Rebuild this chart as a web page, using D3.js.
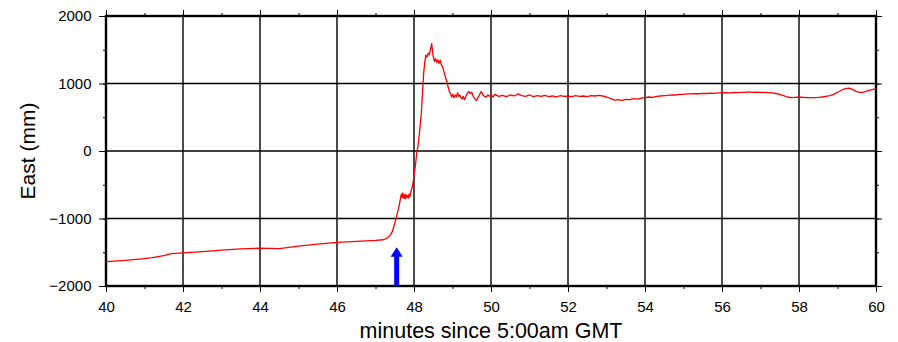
<!DOCTYPE html>
<html><head><meta charset="utf-8">
<script src="https://cdn.jsdelivr.net/npm/d3@7"></script>
<style>body{margin:0;background:#fff}svg{display:block;font-family:"Liberation Sans",Arial,Helvetica,sans-serif}</style>
</head><body><svg id="c" width="898" height="342"></svg>
<script>
const xTicks = [40,42,44,46,48,50,52,54,56,58,60];
const yTicks = [-2000,-1000,0,1000,2000];
const yTickLabels = ["\u22122000","\u22121000","0","1000","2000"];
const xLabel = "minutes since 5:00am GMT";
const yLabel = "East (mm)";
const times = [40,40.5,41,41.2,41.5,41.7,42,42.5,43,43.5,44,44.5,45,45.5,46,46.5,47,47.2,47.3,47.38,47.44,47.5,47.55,47.6,47.64,47.67,47.69,47.71,47.73,47.75,47.77,47.79,47.81,47.83,47.85,47.87,47.89,47.92,47.95,47.98,48.01,48.04,48.07,48.1,48.13,48.16,48.19,48.22,48.25,48.28,48.31,48.34,48.37,48.4,48.43,48.46,48.48,48.5,48.53,48.56,48.59,48.62,48.65,48.68,48.71,48.74,48.77,48.8,48.83,48.86,48.89,48.92,48.95,48.98,49.01,49.04,49.07,49.1,49.13,49.16,49.19,49.22,49.25,49.28,49.31,49.34,49.37,49.4,49.43,49.46,49.5,49.53,49.56,49.6,49.63,49.66,49.7,49.74,49.77,49.8,49.84,49.88,49.92,49.96,50,50.05,50.1,50.2,50.3,50.4,50.5,50.6,50.7,50.8,50.9,51,51.1,51.2,51.3,51.4,51.5,51.6,51.7,51.8,51.9,52,52.1,52.2,52.3,52.4,52.5,52.6,52.7,52.8,52.9,53,53.1,53.2,53.3,53.4,53.5,53.6,53.7,53.8,53.9,54,54.1,54.2,54.3,54.4,54.5,54.6,54.7,54.8,54.9,55,55.1,55.2,55.3,55.4,55.5,55.6,55.7,55.8,55.9,56,56.1,56.2,56.3,56.4,56.5,56.6,56.7,56.8,56.9,57,57.1,57.2,57.3,57.4,57.5,57.6,57.7,57.8,57.9,58,58.1,58.2,58.3,58.4,58.5,58.6,58.7,58.8,58.9,59,59.1,59.2,59.3,59.4,59.5,59.6,59.7,59.8,59.9,60];
const east = [-1640,-1620,-1595,-1580,-1550,-1520,-1510,-1490,-1470,-1450,-1440,-1445,-1410,-1380,-1355,-1340,-1325,-1315,-1290,-1250,-1190,-1070,-960,-850,-730,-640,-690,-620,-700,-650,-710,-640,-690,-660,-700,-640,-680,-600,-540,-450,-330,-200,-30,60,200,380,560,850,1150,1320,1420,1390,1450,1430,1510,1590,1480,1400,1330,1370,1310,1350,1300,1345,1280,1250,1190,1130,1070,1010,940,880,850,800,840,790,830,800,860,810,830,790,770,810,760,800,840,870,880,850,870,820,790,760,750,790,830,880,860,820,810,800,830,810,830,800,840,810,825,805,830,815,845,820,810,830,805,820,810,825,805,815,800,820,810,815,805,820,810,815,805,820,815,825,815,800,780,755,760,750,765,760,775,770,785,790,800,795,810,815,820,825,830,830,840,840,845,845,850,848,855,852,858,855,862,860,865,860,868,865,870,868,875,870,872,868,870,865,860,852,840,820,800,790,795,800,795,790,790,792,795,800,810,820,840,870,900,925,930,910,880,865,875,895,910,925];
const arrowTime = 47.55;
const arrowBase = -2000;
const arrowTip = -1425;

const svg = d3.select("#c");
const L=106, R=876, T=16, B=286;
const x = d3.scaleLinear().domain([40,60]).range([L,R]);
const y = d3.scaleLinear().domain([-2000,2000]).range([B,T]);
const minorX = d3.range(40,61,1);
const minorY = d3.range(-2000,2001,500);

const g = svg.append("g");
g.selectAll(".gx").data(xTicks.slice(1,-1)).join("line")
  .attr("x1",d=>x(d)).attr("x2",d=>x(d)).attr("y1",T).attr("y2",B)
  .attr("stroke","#000").attr("stroke-width",1.4);
g.selectAll(".gy").data(yTicks.slice(1,-1)).join("line")
  .attr("x1",L).attr("x2",R).attr("y1",d=>y(d)).attr("y2",d=>y(d))
  .attr("stroke","#000").attr("stroke-width",1.4);

function styleAxis(sel){ sel.select(".domain").remove(); sel.selectAll("line").attr("stroke","#000").attr("stroke-width",1); }
const fs = 15;
const bx = svg.append("g").attr("transform",`translate(0,${B})`).call(d3.axisBottom(x).tickValues(xTicks).tickSize(6).tickPadding(9).tickFormat(d3.format("d")));
styleAxis(bx); bx.selectAll("text").attr("font-size",fs).attr("fill","#000").attr("font-family","Liberation Sans, Arial, sans-serif");
const bxm = svg.append("g").attr("transform",`translate(0,${B})`).call(d3.axisBottom(x).tickValues(minorX).tickSize(3).tickFormat(""));
styleAxis(bxm);
const tx = svg.append("g").attr("transform",`translate(0,${T})`).call(d3.axisTop(x).tickValues(xTicks).tickSize(6).tickFormat(""));
styleAxis(tx);
const txm = svg.append("g").attr("transform",`translate(0,${T})`).call(d3.axisTop(x).tickValues(minorX).tickSize(3).tickFormat(""));
styleAxis(txm);
const ly = svg.append("g").attr("transform",`translate(${L},0)`).call(d3.axisLeft(y).tickValues(yTicks).tickSize(7).tickPadding(7.5).tickFormat((d,i)=>yTickLabels[i]));
styleAxis(ly); ly.selectAll("text").attr("font-size",fs).attr("fill","#000").attr("font-family","Liberation Sans, Arial, sans-serif");
const lym = svg.append("g").attr("transform",`translate(${L},0)`).call(d3.axisLeft(y).tickValues(minorY).tickSize(3).tickFormat(""));
styleAxis(lym);
const ry = svg.append("g").attr("transform",`translate(${R},0)`).call(d3.axisRight(y).tickValues(yTicks).tickSize(6).tickFormat(""));
styleAxis(ry);
const rym = svg.append("g").attr("transform",`translate(${R},0)`).call(d3.axisRight(y).tickValues(minorY).tickSize(3).tickFormat(""));
styleAxis(rym);

svg.append("rect").attr("x",L).attr("y",T).attr("width",R-L).attr("height",B-T)
  .attr("fill","none").attr("stroke","#000").attr("stroke-width",2.4);

const line = d3.line().x((d,i)=>x(times[i])).y(d=>y(d));
svg.append("path").datum(east).attr("d",line).attr("fill","none")
  .attr("stroke","#ff0000").attr("stroke-width",1.3).attr("stroke-linejoin","round");

const ax = x(arrowTime), ab = y(arrowBase), at = y(arrowTip);
const headH = 9.5, headW = 6, shaftW = 2.5;
svg.append("path").attr("fill","#0000ff")
  .attr("d",`M${ax-shaftW},${ab} L${ax-shaftW},${at+headH} L${ax-headW},${at+headH} L${ax},${at} L${ax+headW},${at+headH} L${ax+shaftW},${at+headH} L${ax+shaftW},${ab} Z`);

svg.append("text").attr("x",(L+R)/2).attr("y",337.5).attr("text-anchor","middle")
  .attr("font-size",21.5).attr("fill","#000").text(xLabel);
svg.append("text").attr("transform",`translate(35,${(T+B)/2}) rotate(-90)`).attr("text-anchor","middle")
  .attr("font-size",21).attr("fill","#000").text(yLabel);
</script></body></html>
